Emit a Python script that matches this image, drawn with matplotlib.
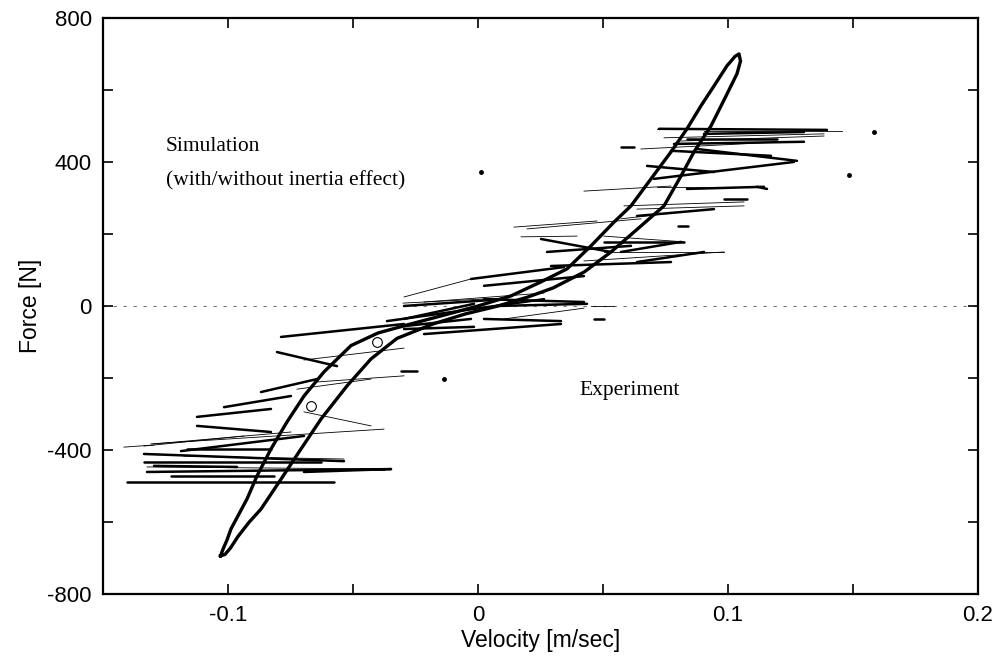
import numpy as np
import matplotlib
matplotlib.use("Agg")
import matplotlib.pyplot as plt
from matplotlib.ticker import MultipleLocator

plt.rcParams["axes.unicode_minus"] = False

# Simulation loop: upper (left) branch and lower (right) branch, bottom tip -> top tip
sim_up_x = [-0.1030, -0.1018, -0.1004, -0.0988, -0.0924, -0.0884, -0.0828, -0.0764, -0.0696, -0.0616,
            -0.0508, -0.0400, -0.0280, -0.0150, 0.0, 0.0132, 0.0252, 0.0356, 0.0452, 0.0544,
            0.0612, 0.0692, 0.0772, 0.0836, 0.0892, 0.0944, 0.0996, 0.1028, 0.1044]
sim_up_f = [-694, -672, -650, -619, -536, -472, -397, -322, -250, -183,
            -110, -75, -52, -28, 0, 28, 67, 103, 167, 233,
            278, 353, 428, 492, 556, 611, 667, 693, 700]
sim_lo_x = [-0.1030, -0.1012, -0.0990, -0.0960, -0.0915, -0.0868, -0.0788, -0.0708, -0.0628, -0.0524,
            -0.0428, -0.0324, -0.0180, -0.0050, 0.0080, 0.0200, 0.0300, 0.0424, 0.0532, 0.0640,
            0.0744, 0.0812, 0.0864, 0.0932, 0.0992, 0.1036, 0.1050, 0.1044]
sim_lo_f = [-694, -690, -672, -640, -600, -564, -481, -397, -314, -222,
            -147, -90, -50, -22, 0, 25, 50, 94, 150, 215,
            278, 361, 428, 500, 583, 645, 680, 700]

# Experiment traces read as strokes (start x, start F, end x, end F)
exp_heavy_x0 = [0.0724, 0.0904, 0.0836, 0.0784, 0.0772, 0.0876, 0.0704, 0.0676, 0.0836, 0.0636,
                0.0504, 0.0572, 0.0252, -0.0028, -0.0296, -0.0216, 0.0076, -0.0296, 0.0276, 0.0572,
                0.0636, -0.0364, -0.0788, -0.0804, -0.0868, -0.1016, -0.1124, -0.1124, -0.1188,
                -0.1336, -0.1404, -0.1228, -0.1336, -0.0468,
                0.0292, 0.0024, 0.0024, 0.0024, 0.1116, 0.0984, -0.0296, -0.0296, -0.0308,
                -0.1164, -0.1324, -0.1296, -0.0696, 0.0800, 0.0464]
exp_heavy_f0 = [492, 478, 464, 450, 431, 436, 353, 389, 325, 250,
                178, 442, 186, 75, -36, -78, 0, -56, 150, 150,
                122, -42, -86, -128, -239, -281, -308, -333, -403,
                -433, -489, -472, -411, -453,
                111, 56, 19, -36, 331, 297, 0, -64, -181,
                -397, -461, -444, -461, 222, -36]
exp_heavy_x1 = [0.1396, 0.1304, 0.1196, 0.1304, 0.1172, 0.1276, 0.1264, 0.0944, 0.1144, 0.0944,
                0.0824, 0.0624, 0.0532, 0.0344, -0.0016, 0.0332, 0.0436, -0.0028, 0.0612, 0.0812,
                0.0904, 0.0264, -0.0296, -0.0564, -0.0644, -0.0748, -0.0828, -0.0828, -0.0696,
                -0.0628, -0.0576, -0.0816, -0.0536, -0.0376,
                0.0772, 0.0424, 0.0424, 0.0332, 0.1156, 0.1076, 0.0104, -0.0016, -0.0244,
                -0.0828, -0.0348, -0.0964, -0.0348, 0.0840, 0.0504]
exp_heavy_f1 = [489, 483, 464, 456, 417, 403, 400, 372, 331, 269,
                178, 442, 150, 108, 6, -50, 6, -36, 167, 178,
                150, 19, -50, -167, -203, -250, -286, -350, -361,
                -433, -489, -472, -431, -453,
                122, 83, 11, -42, 325, 297, 19, -58, -181,
                -397, -453, -447, -453, 222, -36]

exp_light_x0 = [0.0716, 0.0636, 0.0504, 0.0572, 0.0716, 0.0144, 0.0172, -0.0296, 0.0504, -0.1296,
                -0.1416, -0.1176, -0.1308, -0.0696, -0.0644, -0.0724, -0.1324, 0.0452, 0.0744,
                0.0904, -0.0216, 0.0104,
                0.0424, 0.0812, 0.0652, 0.0584, 0.0424, 0.0196, -0.0696, -0.1336, -0.0300]
exp_light_f0 = [492, 269, 150, 242, 331, 219, 192, 25, 194, -383,
                -392, -417, -383, -294, -211, -231, -447, 0, 467,
                486, 11, -36,
                125, 458, 436, 278, 319, 214, -150, -389, 8]
exp_light_x1 = [0.0836, 0.1064, 0.0984, 0.0812, 0.1076, 0.0476, 0.0396, -0.0028, 0.0824, -0.0748,
                -0.1296, -0.0536, -0.0376, -0.0428, -0.0296, -0.0428, -0.0348, 0.0544, 0.1384,
                0.1456, 0.0264, 0.0424,
                0.0984, 0.1384, 0.1224, 0.1064, 0.0772, 0.0652, -0.0296, -0.0936, 0.0100]
exp_light_f1 = [492, 278, 150, 261, 331, 236, 194, 75, 178, -350,
                -386, -425, -342, -333, -194, -203, -453, 0, 478,
                486, 36, -6,
                150, 472, 456, 289, 333, 242, -117, -361, 22]

exp_dot_x = [0.1584, 0.1484, 0.0012, -0.0136]
exp_dot_f = [483, 364, 372, -203]

exp_ring_x = [-0.0668, -0.0404]
exp_ring_f = [-278, -100]

fig = plt.figure(figsize=(10, 6.63), dpi=100)
ax = fig.add_axes([0.103, 0.104, 0.875, 0.869])

# zero line
ax.axhline(0, color="#777777", lw=0.8, ls=(0, (3, 6)), zorder=1)

# experiment
for i in range(len(exp_light_x0)):
    ax.plot([exp_light_x0[i], exp_light_x1[i]], [exp_light_f0[i], exp_light_f1[i]],
            color="black", lw=0.6, zorder=2)
for i in range(len(exp_heavy_x0)):
    ax.plot([exp_heavy_x0[i], exp_heavy_x1[i]], [exp_heavy_f0[i], exp_heavy_f1[i]],
            color="black", lw=1.8, solid_capstyle="round", zorder=2)
ax.plot(exp_dot_x, exp_dot_f, ls="none", marker="o", ms=2.5, color="black")
ax.plot(exp_ring_x, exp_ring_f, ls="none", marker="o", ms=7, mfc="none", mec="black", mew=0.8)

# simulation loop (closed)
loop_x = list(sim_up_x) + list(sim_lo_x[::-1])
loop_f = list(sim_up_f) + list(sim_lo_f[::-1])
ax.plot(loop_x, loop_f, color="black", lw=2.4, solid_joinstyle="round", zorder=3)

ax.set_xlim(-0.15, 0.2)
ax.set_ylim(-800, 800)
ax.set_xticks([-0.1, 0, 0.1, 0.2])
ax.set_xticklabels(["-0.1", "0", "0.1", "0.2"])
ax.set_yticks([-800, -400, 0, 400, 800])
ax.xaxis.set_minor_locator(MultipleLocator(0.05))
ax.yaxis.set_minor_locator(MultipleLocator(200))
ax.tick_params(which="both", direction="in", top=True, right=True, length=7, width=1.2)
ax.tick_params(labelsize=16, pad=8)
for lab in ax.get_xticklabels() + ax.get_yticklabels():
    lab.set_family("Liberation Sans")
for s in ax.spines.values():
    s.set_linewidth(1.6)

ax.set_xlabel("Velocity [m/sec]", fontsize=16.5, family="Liberation Sans", labelpad=2)
ax.set_ylabel("Force [N]", fontsize=16.5, family="Liberation Sans", labelpad=4)

ax.text(-0.1248, 442, "Simulation", fontsize=15.5, family="Liberation Serif", va="center")
ax.text(-0.1248, 347, "(with/without inertia effect)", fontsize=15.5, family="Liberation Serif", va="center")
ax.text(0.0404, -236, "Experiment", fontsize=15.5, family="Liberation Serif", va="center")

plt.savefig("out.png", dpi=100)
